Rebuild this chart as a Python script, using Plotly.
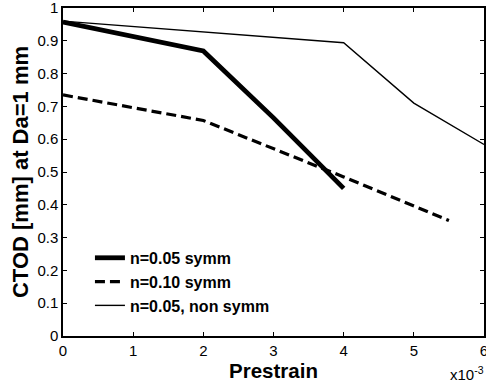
import plotly.graph_objects as go

# Data (prestrain in units of 1e-3, CTOD in mm)
x_n005_symm = [0, 2, 3, 4]
y_n005_symm = [0.957, 0.869, 0.665, 0.450]

x_n010_symm = [0, 2, 4, 5.5]
y_n010_symm = [0.735, 0.657, 0.485, 0.352]

x_n005_nonsymm = [0, 4, 5, 6]
y_n005_nonsymm = [0.960, 0.894, 0.710, 0.584]

x_ticks = [0, 1, 2, 3, 4, 5, 6]
y_ticks = [0, 0.1, 0.2, 0.3, 0.4, 0.5, 0.6, 0.7, 0.8, 0.9, 1]

FONT = "Liberation Sans, Arial, Helvetica, sans-serif"

fig = go.Figure()
fig.add_trace(go.Scatter(x=x_n005_symm, y=y_n005_symm, mode="lines",
                         name="n=0.05 symm",
                         line=dict(color="black", width=4.8)))
fig.add_trace(go.Scatter(x=x_n010_symm, y=y_n010_symm, mode="lines",
                         name="n=0.10 symm",
                         line=dict(color="black", width=3.2, dash="10px,5px")))
fig.add_trace(go.Scatter(x=x_n005_nonsymm, y=y_n005_nonsymm, mode="lines",
                         name="n=0.05, non symm",
                         line=dict(color="black", width=1.4)))

axis_common = dict(showline=True, linecolor="black", linewidth=1.5, mirror="ticks",
                   ticks="inside", ticklen=4, tickwidth=1, tickcolor="black",
                   showgrid=False, zeroline=False, automargin=False,
                   ticklabeloverflow="allow",
                   tickfont=dict(family=FONT, size=15, color="black"))

fig.update_xaxes(range=[0, 6], tickvals=x_ticks,
                 title=dict(text="Prestrain",
                            font=dict(family=FONT, size=20.5, color="black", weight="bold"),
                            standoff=2),
                 **axis_common)
fig.update_yaxes(range=[0, 1], tickvals=y_ticks,
                 title=dict(text="CTOD [mm] at Da=1 mm",
                            font=dict(family=FONT, size=22, color="black", weight="bold"),
                            standoff=3),
                 **axis_common)

fig.add_annotation(text="x10<sup>-3</sup>", xref="paper", yref="paper",
                   x=1.005, y=-0.148, xanchor="right", yanchor="bottom", showarrow=False,
                   font=dict(family=FONT, size=15, color="black"))

fig.update_layout(
    width=486, height=387,
    margin=dict(l=63, r=2, t=8, b=51),
    paper_bgcolor="white", plot_bgcolor="white",
    showlegend=True,
    legend=dict(x=0.064, y=0.29, xanchor="left", yanchor="top",
                bgcolor="rgba(0,0,0,0)", borderwidth=0,
                font=dict(family=FONT, size=16, color="black", weight="bold"),
                tracegroupgap=0, itemwidth=30),
)

fig.write_html("out.html", config={"displayModeBar": False},
               post_script="document.body.style.margin='0';")
